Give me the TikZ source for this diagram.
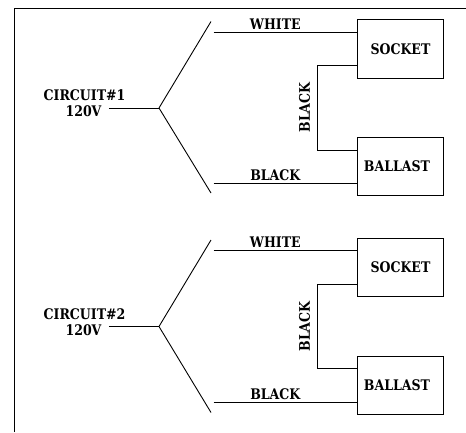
\documentclass[tikz,border=0pt]{standalone}
\usepackage{fontspec}
\setmainfont{DejaVu Serif}[BoldFeatures={FakeStretch=.86}]
\usetikzlibrary{positioning}

\begin{document}
\begin{tikzpicture} [x=1pt, y=-1pt, line width=0.9pt,
    font=\fontsize{14.6}{15}\selectfont\bfseries,
    box/.style={draw,minimum width=85.5pt,minimum height=58.5pt,inner sep=0pt},
    lbl/.style={inner sep=1pt},
    vlbl/.style={inner ysep=1pt,inner xsep=7pt},
    wirelbl/.style={above,inner sep=2pt,pos=.43},
    linklbl/.style={rotate=90,above,inner sep=7pt}
  ]
  \useasboundingbox (0,0) rectangle (466,432);
  \coordinate (fb) at (14.5,432);
  \coordinate (ft) at (14.5,8.5);
  \coordinate (fr) at (466,8.5);
  \draw (fb) -- (ft) -- (fr);

  % circuit 1
  \node[box] (socket1) at (400.5,49) {SOCKET};
  \node[box] (ballast1) at (400.5,166.5) {BALLAST\kern7pt};
  \node[lbl] (cct1) at (84.5,95) {CIRCUIT\#1};
  \node[vlbl] (volt1) at (83.5,111) {120V};
  \coordinate (j1) at (159,108);
  \coordinate (up1) at (211,21.5);
  \coordinate (dn1) at (211,193);
  \coordinate (w1) at (213.5,32.5);
  \coordinate (b1) at (213.5,183);
  \coordinate (la1) at (317.5,65);
  \coordinate (lb1) at (317.5,150);
  \path[draw]
  (volt1.east |- j1) edge (j1)
  (j1) edge (up1)
  (j1) edge (dn1)
  (w1) edge node[wirelbl,yshift=1pt]{WHITE} (socket1.west |- w1)
  (b1) edge node[wirelbl]{BLACK} (ballast1.west |- b1)
  ;
  \draw (socket1.west |- la1) -- (la1) -- node[linklbl]{BLACK} (lb1) -- (ballast1.west |- lb1);

  % circuit 2
  \node[box] (socket2) at (400.5,267.5) {SOCKET};
  \node[box] (ballast2) at (400.5,385.5) {BALLAST\kern7pt};
  \node[lbl] (cct2) at (84.5,314) {CIRCUIT\#2};
  \node[vlbl] (volt2) at (83.5,330) {120V};
  \coordinate (j2) at (159,326.5);
  \coordinate (up2) at (211,240);
  \coordinate (dn2) at (211,412.5);
  \coordinate (w2) at (213.5,250.5);
  \coordinate (b2) at (213.5,402);
  \coordinate (la2) at (317.5,284.5);
  \coordinate (lb2) at (317.5,368.5);
  \path[draw]
  (volt2.east |- j2) edge (j2)
  (j2) edge (up2)
  (j2) edge (dn2)
  (w2) edge node[wirelbl,yshift=1pt]{WHITE} (socket2.west |- w2)
  (b2) edge node[wirelbl]{BLACK} (ballast2.west |- b2)
  ;
  \draw (socket2.west |- la2) -- (la2) -- node[linklbl]{BLACK} (lb2) -- (ballast2.west |- lb2);
\end{tikzpicture}
\end{document}
